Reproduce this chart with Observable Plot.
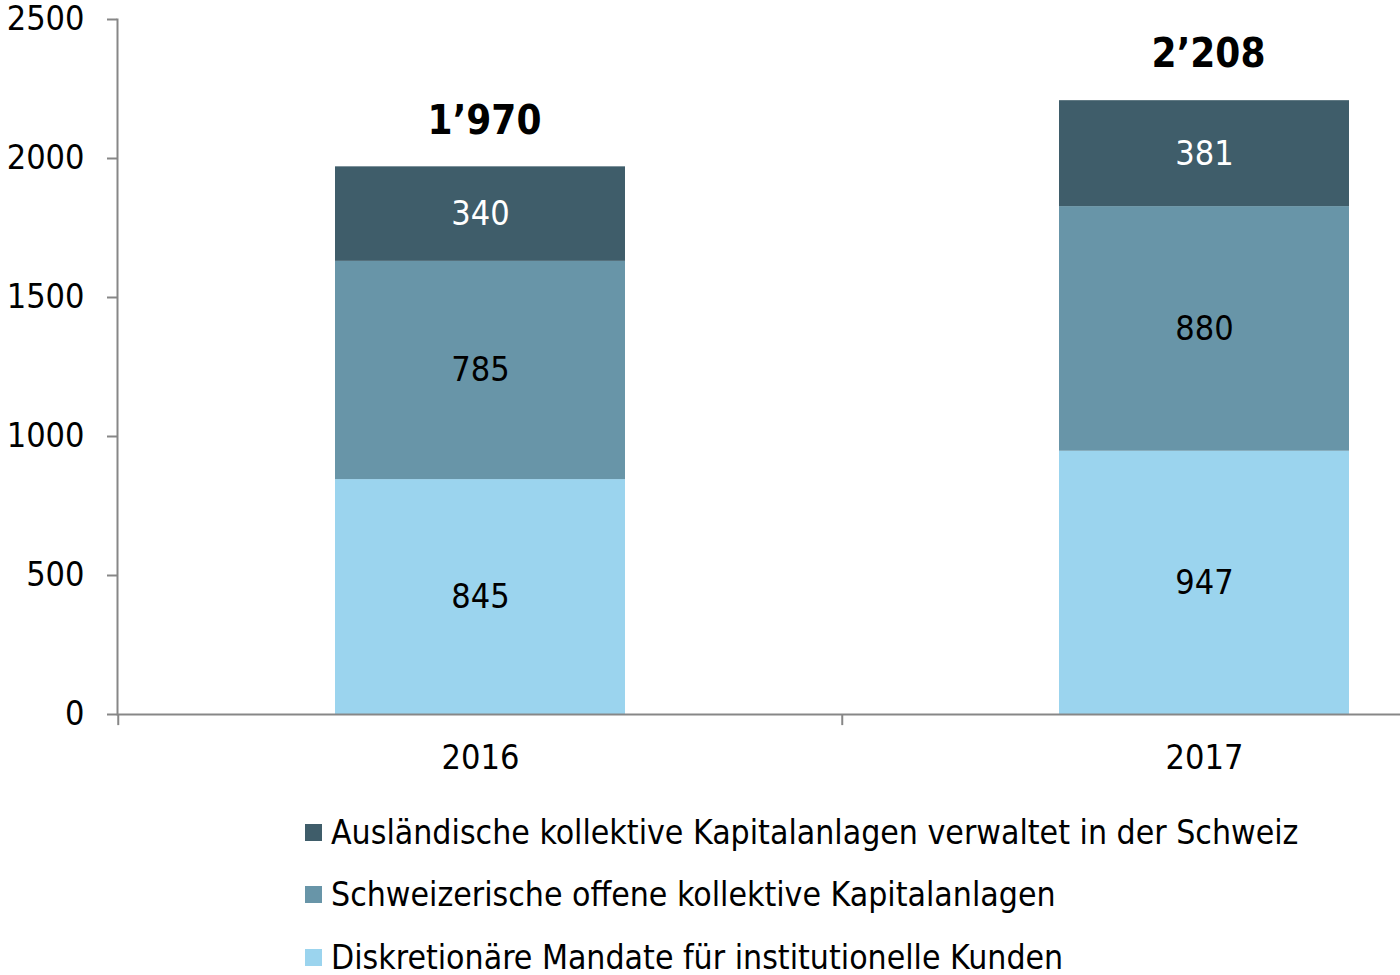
<!DOCTYPE html>
<html>
<head>
<meta charset="utf-8">
<script src="https://cdn.jsdelivr.net/npm/d3@7"></script>
<script src="https://cdn.jsdelivr.net/npm/@observablehq/plot@0.6"></script>
<style>
  html, body { margin: 0; padding: 0; background: white; overflow: hidden; }
  #legend { margin-top: 11px; padding-left: 305px; font-family: "DejaVu Sans Condensed", "DejaVu Sans", sans-serif; font-stretch: condensed; font-size: 33.5px; color: #000; }
  .row { height: 62.5px; display: flex; align-items: center; }
  .sw { width: 17px; height: 17px; margin-right: 9px; flex: none; }
</style>
</head>
<body>
<div id="chart"></div>
<div id="legend"></div>
<script>
const years = ["2016", "2017"];
const series = [
  "Diskretionäre Mandate für institutionelle Kunden",
  "Schweizerische offene kollektive Kapitalanlagen",
  "Ausländische kollektive Kapitalanlagen verwaltet in der Schweiz"
];
const diskretionaer = [845, 947];
const schweizerisch = [785, 880];
const auslaendisch = [340, 381];
const yTicks = [0, 500, 1000, 1500, 2000, 2500];
const colors = ["#9bd4ee", "#6895a8", "#3f5d6a"];

const FONT = '"DejaVu Sans Condensed", "DejaVu Sans", sans-serif';
const GREY = "#878787";

const values = [diskretionaer, schweizerisch, auslaendisch];
const data = years.flatMap((year, i) => series.map((s, j) => ({year, series: s, value: values[j][i]})));

const fmt = d3.formatLocale({decimal: ".", thousands: "\u2019", grouping: [3], currency: ["", ""]}).format(",d");

const xRange = [117, 1566];
const step = (xRange[1] - xRange[0]) / years.length;

const chart = Plot.plot({
  width: 1400,
  height: 790,
  marginLeft: 117,
  marginRight: 0,
  marginTop: 19,
  marginBottom: 76,
  style: {fontFamily: FONT, fontSize: "34px", color: "black", background: "white", overflow: "hidden", fontStretch: "condensed"},
  x: {domain: years, range: xRange, padding: 0, axis: null, label: null},
  y: {domain: [0, 2500], axis: null, label: null},
  color: {domain: series, range: colors},
  marks: [
    Plot.barY(data, Plot.stackY({x: "year", y: "value", fill: "series", insetLeft: 217, insetRight: 217})),
    Plot.ruleY([0], {stroke: GREY, strokeWidth: 2}),
    Plot.frame({anchor: "left", stroke: GREY, strokeWidth: 2}),
    Plot.ruleX(years, {x: d => d, y1: 0, y2: -40, dx: -step / 2, stroke: GREY, strokeWidth: 2}),
    Plot.axisY({ticks: yTicks, tickSize: 10, tickPadding: 23, stroke: GREY, strokeWidth: 2, fill: "black", fontSize: 34, tickFormat: d3.format("d"), label: null}),
    Plot.axisX({tickSize: 0, tickPadding: 30, fill: "black", fontSize: 34, label: null}),
    Plot.text(data, Plot.stackY({x: "year", y: "value", text: d => d.series === series[2] ? String(d.value) : "", fill: "white", fontSize: 34})),
    Plot.text(data, Plot.stackY({x: "year", y: "value", text: d => d.series !== series[2] ? String(d.value) : "", fill: "black", fontSize: 34})),
    Plot.text(data, Plot.groupX({y: "sum", text: v => fmt(d3.sum(v))}, {x: "year", y: "value", text: "value", dy: -46, dx: 4, fontSize: 40, fontWeight: "bold", fill: "black"}))
  ]
});
document.getElementById("chart").appendChild(chart);

const legend = document.getElementById("legend");
[2, 1, 0].forEach(j => {
  const row = document.createElement("div");
  row.className = "row";
  const sw = document.createElement("span");
  sw.className = "sw";
  sw.style.background = colors[j];
  const t = document.createElement("span");
  t.textContent = series[j];
  row.appendChild(sw);
  row.appendChild(t);
  legend.appendChild(row);
});
</script>
</body>
</html>
